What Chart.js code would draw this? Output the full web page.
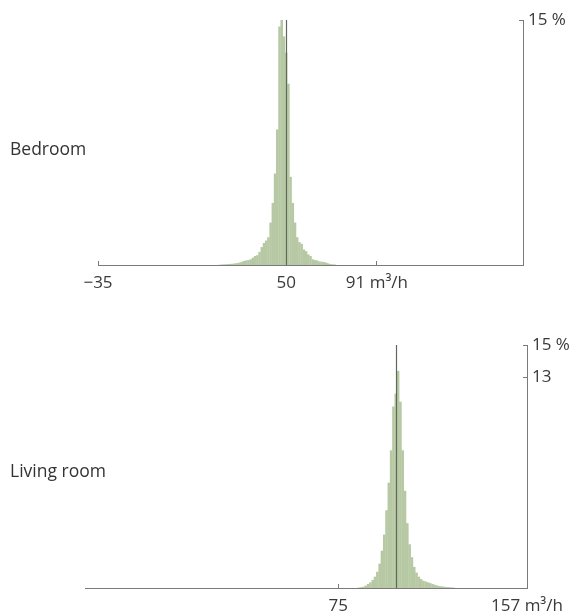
<!DOCTYPE html>
<html>
<head>
<meta charset="utf-8">
<script src="https://cdn.jsdelivr.net/npm/chart.js@4"></script>
<style>
  body { margin: 0; background: #fff; }
  .wrap { position: relative; width: 569px; height: 614px; }
  canvas { position: absolute; left: 0; }
  .room { position: absolute; left: 10px; font: 17.5px 'Open Sans', sans-serif; color: #333; line-height: 22px; }
</style>
</head>
<body>
<div class="wrap">
  <canvas id="bedroom" width="569" height="300" style="top:0"></canvas>
  <canvas id="living" width="569" height="314" style="top:300px"></canvas>
  <div class="room" style="top:137px">Bedroom</div>
  <div class="room" style="top:459px">Living room</div>
</div>
<script>
// histogram data, 1 m3/h bins, share of hours in %
const bedroomFirstBin = 20;
const bedroomPct = [
    0.02, 0.03, 0.04, 0.05, 0.06, 0.07, 0.08, 0.1, 0.12, 0.15,
    0.2, 0.25, 0.28, 0.3, 0.35, 0.45, 0.55, 0.6, 0.8, 1.1,
    1.35, 1.5, 1.7, 2.6, 3.8, 5.6, 8.3, 14.6, 15.0, 14.0,
    13.0, 11.1, 5.4, 3.8, 2.6, 1.7, 1.4, 1.3, 0.95, 0.85,
    0.65, 0.55, 0.35, 0.3, 0.28, 0.22, 0.2, 0.18, 0.15, 0.1,
    0.06, 0.04, 0.03
];
const bedroomMean = 50;
const bedroomXTicks = [-35, 50, 91];
const bedroomYTicks = [15];

const livingFirstBin = 84;
const livingPct = [
    0.03, 0.05, 0.08, 0.15, 0.25, 0.35, 0.5, 0.7, 1.0, 1.5,
    2.3, 3.3, 4.8, 6.5, 8.5, 11.2, 12.0, 13.4, 11.5, 8.5,
    6.0, 4.0, 2.7, 1.9, 1.3, 0.95, 0.7, 0.55, 0.45, 0.4,
    0.35, 0.3, 0.25, 0.2, 0.15, 0.12, 0.1, 0.08, 0.06, 0.05,
    0.04, 0.03
];
const livingMean = 100;
const livingXTicks = [75, 157];
const livingYTicks = [13, 15];

const xMin = -35;
const xMax = 157;
const yMax = 15;
const unit = 'm³/h';

const axisColor = '#7a7a7a';
const textColor = '#3a3a3a';
const barColor = '#b7c9a4';
const meanColor = '#5f6959';
const tickFont = { family: 'Open Sans', size: 17 };

const meanLine = {
    id: 'meanLine',
    afterDatasetsDraw(chart, args, opts) {
        const ctx = chart.ctx;
        const x = Math.round(chart.scales.x.getPixelForValue(opts.value)) + 0.5;
        ctx.save();
        ctx.strokeStyle = meanColor;
        ctx.lineWidth = 1.2;
        ctx.beginPath();
        ctx.moveTo(x, chart.scales.y.getPixelForValue(0));
        ctx.lineTo(x, chart.scales.y.getPixelForValue(yMax));
        ctx.stroke();
        ctx.restore();
    }
};

const makeConfig = (firstBin, pct, mean, xTicks, yTicks, pad, xAxisH, yAxisW) => ({
    type: 'bar',
    data: {
        datasets: [{
            data: pct.map((p, i) => ({ x: firstBin + i, y: p })),
            backgroundColor: barColor,
            borderWidth: 0,
            inflateAmount: 0,
            barPercentage: 1.15,
            categoryPercentage: 1
        }]
    },
    options: {
        responsive: false,
        animation: false,
        layout: { padding: pad },
        plugins: {
            legend: { display: false },
            tooltip: { enabled: false },
            meanLine: { value: mean }
        },
        scales: {
            x: {
                type: 'linear',
                min: xMin,
                max: xMax,
                offset: false,
                afterBuildTicks: s => { s.ticks = xTicks.map(v => ({ value: v })); },
                afterFit: s => {
                    s.height = xAxisH;
                    s.paddingLeft = 0;
                    s.paddingRight = 0;
                },
                grid: { offset: false, drawOnChartArea: false, tickLength: -4, color: axisColor },
                border: { color: axisColor, width: 1 },
                ticks: {
                    padding: 12,
                    autoSkip: false,
                    maxRotation: 0,
                    color: textColor,
                    font: tickFont,
                    callback: (v, i) => {
                        const t = v < 0 ? '\u2212' + Math.abs(v) : String(v);
                        return i === xTicks.length - 1 ? t + ' ' + unit : t;
                    }
                }
            },
            y: {
                position: 'right',
                min: 0,
                max: yMax,
                afterBuildTicks: s => { s.ticks = yTicks.map(v => ({ value: v })); },
                afterFit: s => { s.width = yAxisW; },
                grid: { drawOnChartArea: false, tickLength: -4, color: axisColor },
                border: { color: axisColor, width: 1 },
                ticks: {
                    padding: 9,
                    color: textColor,
                    font: tickFont,
                    callback: v => v === yMax ? v + ' %' : String(v)
                }
            }
        }
    },
    plugins: [meanLine]
});

const chartBedroom = new Chart(
    document.getElementById('bedroom'),
    makeConfig(bedroomFirstBin, bedroomPct, bedroomMean, bedroomXTicks, bedroomYTicks,
        { left: 98, top: 20, right: 0, bottom: 0 }, 35, 46)
);
const chartLiving = new Chart(
    document.getElementById('living'),
    makeConfig(livingFirstBin, livingPct, livingMean, livingXTicks, livingYTicks,
        { left: 85, top: 45, right: 0, bottom: 0 }, 26, 42)
);
</script>
</body>
</html>
